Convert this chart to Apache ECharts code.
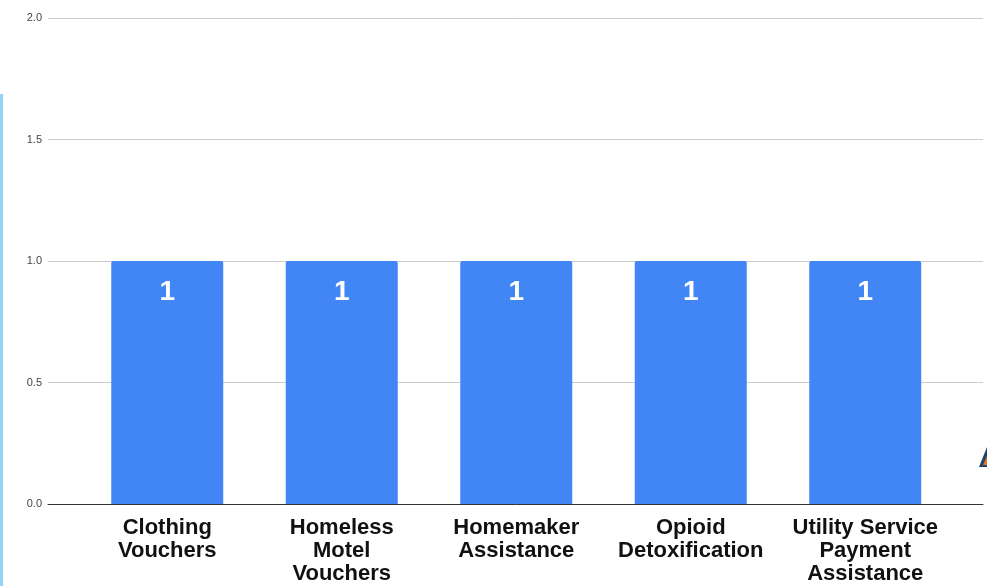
<!DOCTYPE html>
<html>
<head>
<meta charset="utf-8">
<style>
  html, body { margin: 0; padding: 0; background: #fff; }
  #chart { width: 987px; height: 586px; }
</style>
<script src="https://cdn.jsdelivr.net/npm/echarts@6/dist/echarts.min.js"></script>
</head>
<body>
<div id="chart"></div>
<script>
// Services and the count recorded for each
const categories = [
  'Clothing\nVouchers',
  'Homeless\nMotel\nVouchers',
  'Homemaker\nAssistance',
  'Opioid\nDetoxification',
  'Utility Service\nPayment\nAssistance'
];
const counts = [1, 1, 1, 1, 1];
const yTicks = [0, 0.5, 1, 1.5, 2];

const yMin = yTicks[0];
const yMax = yTicks[yTicks.length - 1];
const yStep = yTicks[1] - yTicks[0];

const chart = echarts.init(document.getElementById('chart'), null, { renderer: 'canvas' });

chart.setOption({
  animation: false,
  backgroundColor: '#ffffff',
  grid: [
    // full-width grid: value axis labels, gridlines and baseline
    { left: 48, right: 4, top: 18, bottom: 82 },
    // inner grid holding the bars and category labels
    { left: 80, width: 872.5, top: 18, bottom: 82 }
  ],
  xAxis: [
    {
      gridIndex: 0, type: 'value', min: 0, max: 1,
      axisLine: { show: true, lineStyle: { color: '#333333', width: 1 } },
      axisTick: { show: false }, axisLabel: { show: false }, splitLine: { show: false }
    },
    {
      gridIndex: 1, type: 'category', data: categories,
      axisLine: { show: false }, axisTick: { show: false },
      axisLabel: {
        interval: 0, margin: 12,
        fontFamily: 'Liberation Sans, Arial, sans-serif',
        fontSize: 22, fontWeight: 'bold', lineHeight: 23, color: '#111111'
      }
    }
  ],
  yAxis: [
    {
      gridIndex: 0, type: 'value', min: yMin, max: yMax, interval: yStep,
      axisLine: { show: false }, axisTick: { show: false },
      axisLabel: {
        margin: 6, color: '#444444', fontSize: 11,
        fontFamily: 'Liberation Sans, Arial, sans-serif',
        formatter: v => v.toFixed(1)
      },
      splitLine: { lineStyle: { color: '#cccccc', width: 1 } }
    },
    {
      gridIndex: 1, type: 'value', min: yMin, max: yMax, interval: yStep,
      show: false
    }
  ],
  series: [{
    type: 'bar',
    xAxisIndex: 1, yAxisIndex: 1,
    data: counts,
    barWidth: 112,
    itemStyle: { color: '#4285f4', borderRadius: [2, 2, 0, 0] },
    label: {
      show: true, position: 'insideTop', distance: 17,
      color: '#ffffff', fontSize: 28, fontWeight: 'bold',
      fontFamily: 'Liberation Sans, Arial, sans-serif'
    }
  }],
  graphic: [
    // light blue frame edge along the left side
    { type: 'rect', left: 0, top: 94, shape: { width: 3, height: 492 },
      style: { fill: '#8fd6f2' }, silent: true },
    // small dark marker at the right edge
    { type: 'polygon', shape: { points: [[979, 467], [987, 447], [987, 467]] },
      style: { fill: '#1f4563' }, silent: true },
    { type: 'polygon', shape: { points: [[983, 465], [987, 456], [987, 465]] },
      style: { fill: '#e8742a' }, silent: true }
  ]
});
</script>
</body>
</html>
